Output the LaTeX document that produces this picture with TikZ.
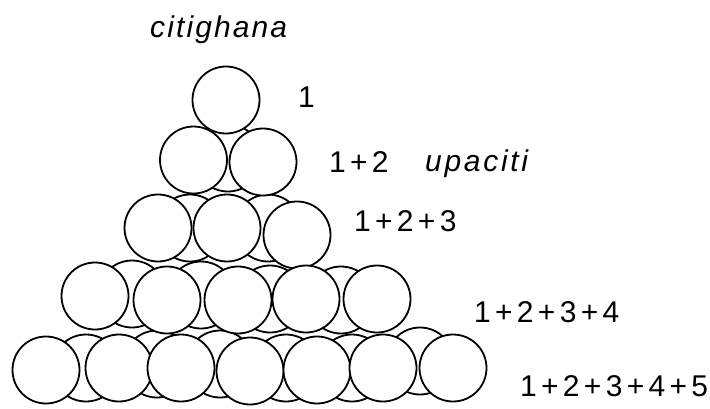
\documentclass[tikz,border=0pt]{standalone}
\usepackage{fontspec}
\setmainfont{Liberation Sans}
\newcommand\kd{\kern4.3pt}
\newcommand\kc{\kern2.1pt}
\newcommand\ku{\kern2.7pt}
\begin{document}
\begin{tikzpicture}[x=1pt,y=-1pt,
  ball/.style={draw=black,fill=white,line width=1.8pt},
  lbl/.style={inner sep=0pt,anchor=base west,font=\fontsize{30}{32}\selectfont}]
\useasboundingbox (0,0) rectangle (710,408);
% back circles
\foreach \x/\y in {228/158,
  190/228, 268/228,
  132/294, 201/295, 270/299, 341/300,
  86/368, 157/364, 220/364, 286/368, 352/368, 420/361}
  \draw[ball] (\x,\y) circle[radius=33.5pt];
% front circles
\foreach \x/\y in {226/100,
  193.5/160, 263/162,
  158/228, 227/228, 297/235,
  95/296, 167/300, 238/300, 306/299, 377/299,
  46/370, 119/368, 181/368, 250/371, 317/370, 383/368, 453/368}
  \draw[ball] (\x,\y) circle[radius=33.5pt];
% labels
\node[lbl,font=\fontsize{30}{32}\selectfont\itshape] (cg) at (150,37) {c\kc i\kc t\kc i\kc g\kc h\kc a\kc n\kc a};
\node[lbl,font=\fontsize{30}{32}\selectfont\itshape] (up) at (425,171) {u\ku p\ku a\ku c\ku i\ku t\ku i};
\node[lbl] (s1) at (298,107) {1};
\node[lbl] (s2) at (329,172) {1\kd+\kd2};
\node[lbl] (s3) at (354,231) {1\kd+\kd2\kd+\kd3};
\node[lbl] (s4) at (474,322) {1\kd+\kd2\kd+\kd3\kd+\kd4};
\node[lbl] (s5) at (520,396) {1\kd+\kd2\kd+\kd3\kd+\kd4\kd+\kd5};
\end{tikzpicture}
\end{document}
